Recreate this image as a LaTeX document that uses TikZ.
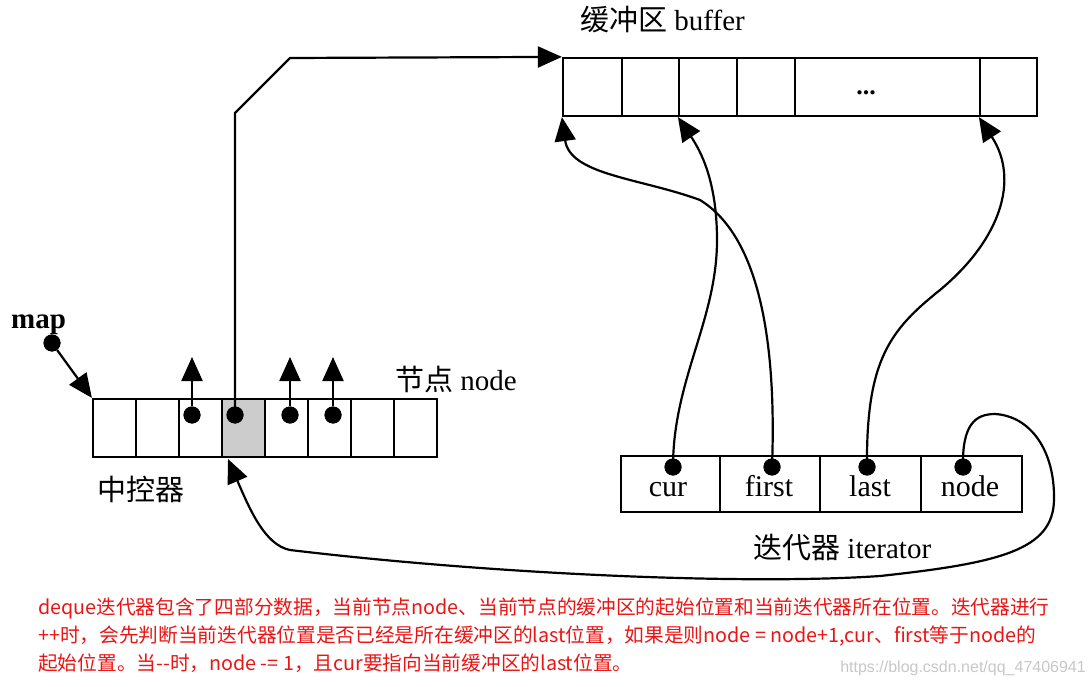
\documentclass[tikz,border=0pt]{standalone}
\usepackage{fontspec}
\setmainfont{Liberation Serif}
\newfontfamily\cjk{Noto Sans CJK SC}
\newfontfamily\wmfont{Liberation Sans}
\usetikzlibrary{arrows.meta}
\definecolor{notered}{RGB}{235,20,20}
\begin{document}
\begin{tikzpicture}[x=1pt,y=-1pt,
  cell/.style={draw, line width=2.2pt, inner sep=0pt, fill=white},
  mcell/.style={cell, minimum width=43pt, minimum height=58pt},
  bcell/.style={cell, minimum height=58pt},
  icell/.style={cell, minimum height=56pt},
  dot/.style={circle, fill=black, inner sep=0pt, minimum size=17pt},
  arr/.style={line width=2.2pt, -{Triangle[length=24pt,width=21pt]}},
  lbl/.style={inner sep=0pt, anchor=base, font=\fontsize{29pt}{34pt}\selectfont},
  note/.style={inner sep=0pt, anchor=base west, text=notered, font=\cjk\fontsize{19.7pt}{24pt}\selectfont}
]
\useasboundingbox (0,0) rectangle (1092,687);

% ---- map (central controller) ----
\node[mcell] (m1) at (114.5,428) {};
\node[mcell] (m2) at (157.5,428) {};
\node[mcell] (m3) at (200.5,428) {};
\node[mcell, fill=black!20] (m4) at (243.5,428) {};
\node[mcell] (m5) at (286.5,428) {};
\node[mcell] (m6) at (329.5,428) {};
\node[mcell] (m7) at (372.5,428) {};
\node[mcell] (m8) at (415.5,428) {};

% ---- buffer ----
\node[bcell, minimum width=59pt]  (b1) at (592.5,87) {};
\node[bcell, minimum width=57pt]  (b2) at (650.5,87) {};
\node[bcell, minimum width=58pt]  (b3) at (708,87) {};
\node[bcell, minimum width=58pt]  (b4) at (766,87) {};
\node[bcell, minimum width=185pt] (b5) at (887.5,87) {};
\node[bcell, minimum width=57pt]  (b6) at (1008.5,87) {};
\node[inner sep=0pt, anchor=base, font=\bfseries\fontsize{26pt}{26pt}\selectfont] (dots) at (866,95) {...};

% ---- iterator ----
\node[icell, minimum width=99pt]  (i1) at (670.5,484) {};
\node[icell, minimum width=100pt] (i2) at (770,484) {};
\node[icell, minimum width=101pt] (i3) at (870.5,484) {};
\node[icell, minimum width=101pt] (i4) at (971.5,484) {};
\node[lbl, font=\fontsize{30pt}{34pt}\selectfont] (tcur)   at (668,496) {cur};
\node[lbl, font=\fontsize{30pt}{34pt}\selectfont] (tfirst) at (769,496) {first};
\node[lbl, font=\fontsize{30pt}{34pt}\selectfont] (tlast)  at (870,496) {last};
\node[lbl, font=\fontsize{30pt}{34pt}\selectfont] (tnode)  at (970,496) {node};

% ---- labels ----
\node[lbl, anchor=base west] (lbuf) at (580,31) {{\cjk 缓冲区} buffer};
\node[lbl, anchor=base west] (lnode) at (395,390) {{\cjk 节点} node};
\node[lbl, anchor=base west] (lmap) at (97,500) {\cjk 中控器};
\node[lbl, anchor=base west] (lit) at (753,558) {{\cjk 迭代器} iterator};
\node[lbl, anchor=base west, font=\bfseries\fontsize{29pt}{34pt}\selectfont] (maplbl) at (11,328) {map};

% ---- dots ----
\node[dot] (mapdot) at (52,343) {};
\node[dot] (d3) at (192,415) {};
\node[dot] (d4) at (235,415) {};
\node[dot] (d5) at (290,415) {};
\node[dot] (d6) at (333,415) {};
\node[dot] (cdot) at (673,467) {};
\node[dot] (fdot) at (772,467) {};
\node[dot] (ldot) at (867,467) {};
\node[dot] (ndot) at (963,467) {};

\coordinate (u3) at (192,357);
\coordinate (u5) at (290,357);
\coordinate (u6) at (333,357);
\coordinate (k1) at (235,113);
\coordinate (k2) at (290,58);
\coordinate (ntip) at (228,459);

% ---- connectors ----
\draw[arr] (mapdot) -- (m1.north west);
\draw[arr] (d3) -- (u3);
\draw[arr] (d5) -- (u5);
\draw[arr] (d6) -- (u6);
\draw[arr] (d4.center) -- (k1) -- (k2) -- (b1.north west);

\draw[arr] (fdot.center) .. controls (776,360) and (765,240) .. (700,200)
  .. controls (640,178) and (570,175) .. (b1.south west);
\draw[arr] (cdot.center) .. controls (673,380) and (717,320) .. (717,240)
  .. controls (717,180) and (700,150) .. (b3.south west);
\draw[arr] (ldot.center) .. controls (866,360) and (890,330) .. (940,290)
  .. controls (1000,240) and (1020,180) .. (b6.south west);
\draw[arr] (ndot.center) .. controls (962,425) and (975,414) .. (995,414)
  .. controls (1030,416) and (1055,450) .. (1054,500)
  .. controls (1053,550) and (1000,563) .. (880,576)
  .. controls (750,585) and (500,575) .. (290,550)
  .. controls (265,545) and (250,510) .. (ntip);

% redraw dots on top
\foreach \d in {mapdot,d3,d4,d5,d6,cdot,fdot,ldot,ndot} \fill (\d) circle (8.5pt);

% ---- note text ----
\node[note] (n1) at (38,614) {deque迭代器包含了四部分数据，当前节点node、当前节点的缓冲区的起始位置和当前迭代器所在位置。迭代器进行};
\node[note] (n2) at (38,642) {++时，会先判断当前迭代器位置是否已经是所在缓冲区的last位置，如果是则node = node+1,cur、first等于node的};
\node[note] (n3) at (38,670) {起始位置。当--时，node -= 1，且cur要指向当前缓冲区的last位置。};
\node[inner sep=0pt, anchor=base east, text=black!22, font=\wmfont\fontsize{16pt}{18pt}\selectfont] (wm) at (1086,672) {https://blog.csdn.net/qq\_47406941};
\end{tikzpicture}
\end{document}
